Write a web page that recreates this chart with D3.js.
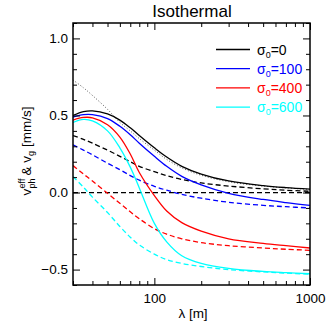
<!DOCTYPE html>
<html>
<head>
<meta charset="utf-8">
<script src="https://cdn.jsdelivr.net/npm/d3@7"></script>
<style>
  body { margin: 0; background: #fff; }
  text { font-family: "Liberation Sans", Arial, sans-serif; }
</style>
</head>
<body>
<svg width="332" height="332"></svg>
<script>
// wavelengths (m) at which the curves were read
var lambda = [30, 35, 40, 50, 60, 70, 80, 100, 120, 150, 200, 300, 500, 700, 1000];

// solid: effective phase speed, dashed: group speed (mm/s)
var vph0   = [0.50, 0.525, 0.53, 0.51, 0.47, 0.42, 0.37, 0.29, 0.23, 0.17, 0.12, 0.075, 0.045, 0.032, 0.022];
var vph100 = [0.49, 0.505, 0.505, 0.48, 0.43, 0.375, 0.32, 0.235, 0.17, 0.105, 0.05, -0.005, -0.045, -0.065, -0.083];
var vph400 = [0.47, 0.487, 0.485, 0.44, 0.36, 0.25, 0.13, -0.02, -0.12, -0.195, -0.25, -0.3, -0.33, -0.345, -0.36];
var vph600 = [0.455, 0.475, 0.465, 0.4, 0.29, 0.165, 0.03, -0.2, -0.32, -0.41, -0.46, -0.492, -0.512, -0.52, -0.527];

var vg0   = [0.37, 0.345, 0.32, 0.275, 0.235, 0.2, 0.17, 0.135, 0.11, 0.085, 0.062, 0.042, 0.024, 0.015, 0.008];
var vg100 = [0.31, 0.275, 0.245, 0.19, 0.148, 0.11, 0.08, 0.04, 0.015, -0.012, -0.037, -0.063, -0.083, -0.092, -0.1];
var vg400 = [0.175, 0.12, 0.075, -0.005, -0.07, -0.125, -0.17, -0.235, -0.27, -0.3, -0.325, -0.345, -0.36, -0.368, -0.375];
var vg600 = [0.104, 0.035, -0.03, -0.13, -0.22, -0.29, -0.34, -0.4, -0.435, -0.46, -0.48, -0.5, -0.515, -0.523, -0.53];

// dotted reference curve
var vref = [0.73, 0.68, 0.63, 0.54, 0.455, 0.40, 0.35, 0.275, 0.215, 0.16, 0.112, 0.07, 0.042, 0.03, 0.02];

var sigma = ["0", "100", "400", "600"];
var colors = ["#000000", "#0000ff", "#ff0000", "#00ffff"];
var solids = [vph0, vph100, vph400, vph600];
var dashes = [vg0, vg100, vg400, vg600];

var xMajor = [100, 1000];
var xMinor = [30, 40, 50, 60, 70, 80, 90, 200, 300, 400, 500, 600, 700, 800, 900];
var yMajor = [-0.5, 0.0, 0.5, 1.0];
var yMinor = [-0.6, -0.4, -0.3, -0.2, -0.1, 0.1, 0.2, 0.3, 0.4, 0.6, 0.7, 0.8, 0.9, 1.1];

var svg = d3.select("svg"),
    margin = {top: 23, right: 22, bottom: 47, left: 73},
    w = +svg.attr("width") - margin.left - margin.right,
    h = +svg.attr("height") - margin.top - margin.bottom;

var g = svg.append("g").attr("transform", "translate(" + margin.left + "," + margin.top + ")");

var x = d3.scaleLog().domain([30, 1000]).range([0, w]);
var y = d3.scaleLinear().domain([-0.6, 1.1]).range([h, 0]);

g.append("clipPath").attr("id", "clip")
  .append("rect").attr("width", w).attr("height", h);

var plot = g.append("g").attr("clip-path", "url(#clip)");

function line(vals) {
  return d3.line()
    .x(function(d, i) { return x(lambda[i]); })
    .y(function(d) { return y(d); })
    .curve(d3.curveCatmullRom.alpha(0.5))(vals);
}

// zero line
plot.append("path")
  .attr("d", d3.line()([[x(30), y(0)], [x(1000), y(0)]]))
  .attr("stroke", "#000").attr("stroke-width", 1.3)
  .attr("stroke-dasharray", "5,3").attr("fill", "none");

plot.append("path")
  .attr("d", line(vref))
  .attr("stroke", "#555").attr("stroke-width", 1)
  .attr("stroke-dasharray", "1,2").attr("fill", "none");

dashes.forEach(function(vals, k) {
  plot.append("path")
    .attr("d", line(vals))
    .attr("stroke", colors[k]).attr("stroke-width", 1.3)
    .attr("stroke-dasharray", "5,3").attr("fill", "none");
});

solids.forEach(function(vals, k) {
  plot.append("path")
    .attr("d", line(vals))
    .attr("stroke", colors[k]).attr("stroke-width", 1.3)
    .attr("fill", "none");
});

// axes, ticks pointing inward on all four sides
function styleAxis(sel) {
  sel.select(".domain").remove();
  sel.selectAll(".tick line").attr("stroke", "#000").attr("stroke-width", 1);
  sel.selectAll("text").attr("font-size", "13.5px").attr("fill", "#000");
}

g.append("g").attr("transform", "translate(0," + h + ")")
  .call(d3.axisBottom(x).tickValues(xMajor).tickSize(-7).tickPadding(8).tickFormat(d3.format("d")))
  .call(styleAxis);
g.append("g").attr("transform", "translate(0," + h + ")")
  .call(d3.axisBottom(x).tickValues(xMinor).tickSize(-4).tickFormat(""))
  .call(styleAxis);
g.append("g")
  .call(d3.axisTop(x).tickValues(xMajor).tickSize(-7).tickFormat(""))
  .call(styleAxis);
g.append("g")
  .call(d3.axisTop(x).tickValues(xMinor).tickSize(-4).tickFormat(""))
  .call(styleAxis);

g.append("g")
  .call(d3.axisLeft(y).tickValues(yMajor).tickSize(-7).tickPadding(5).tickFormat(d3.format(".1f")))
  .call(styleAxis);
g.append("g")
  .call(d3.axisLeft(y).tickValues(yMinor).tickSize(-4).tickFormat(""))
  .call(styleAxis);
g.append("g").attr("transform", "translate(" + w + ",0)")
  .call(d3.axisRight(y).tickValues(yMajor).tickSize(-7).tickFormat(""))
  .call(styleAxis);
g.append("g").attr("transform", "translate(" + w + ",0)")
  .call(d3.axisRight(y).tickValues(yMinor).tickSize(-4).tickFormat(""))
  .call(styleAxis);

g.append("rect").attr("width", w).attr("height", h)
  .attr("fill", "none").attr("stroke", "#000").attr("stroke-width", 1.5);

// title
svg.append("text").attr("x", 192).attr("y", 17)
  .attr("text-anchor", "middle").attr("font-size", "17px").text("Isothermal");

// x label
svg.append("text").attr("x", 193).attr("y", 318)
  .attr("text-anchor", "middle").attr("font-size", "13.5px").text("λ [m]");

// y label with stacked sub/superscript
var yl = svg.append("g");
var yt = yl.append("text").attr("font-size", "13.5px").attr("y", 0);
yt.append("tspan").attr("x", 0).text("v");
yt.append("tspan").attr("x", 7).attr("dy", -6).attr("font-size", "9px").text("eff");
yt.append("tspan").attr("x", 7).attr("dy", 10).attr("font-size", "9px").text("ph");
yt.append("tspan").attr("x", 20).attr("dy", -4).text("& v");
yt.append("tspan").attr("dy", 3).attr("font-size", "9px").text("g");
yt.append("tspan").attr("dy", -3).text(" [mm/s]");
var yw = yt.node().getBBox().width;
yl.attr("transform", "translate(31," + (151 + yw / 2) + ") rotate(-90)");

// legend
var leg = svg.append("g");
sigma.forEach(function(s, k) {
  var ly = 49.5 + k * 19.2;
  leg.append("line").attr("x1", 216).attr("x2", 250).attr("y1", ly).attr("y2", ly)
    .attr("stroke", colors[k]).attr("stroke-width", 1.3);
  var t = leg.append("text").attr("x", 257).attr("y", ly + 5)
    .attr("font-size", "14px").attr("fill", colors[k]);
  t.append("tspan").text("σ");
  t.append("tspan").attr("dy", 3).attr("font-size", "9px").text("0");
  t.append("tspan").attr("dy", -3).text("=" + s);
});
</script>
</body>
</html>
